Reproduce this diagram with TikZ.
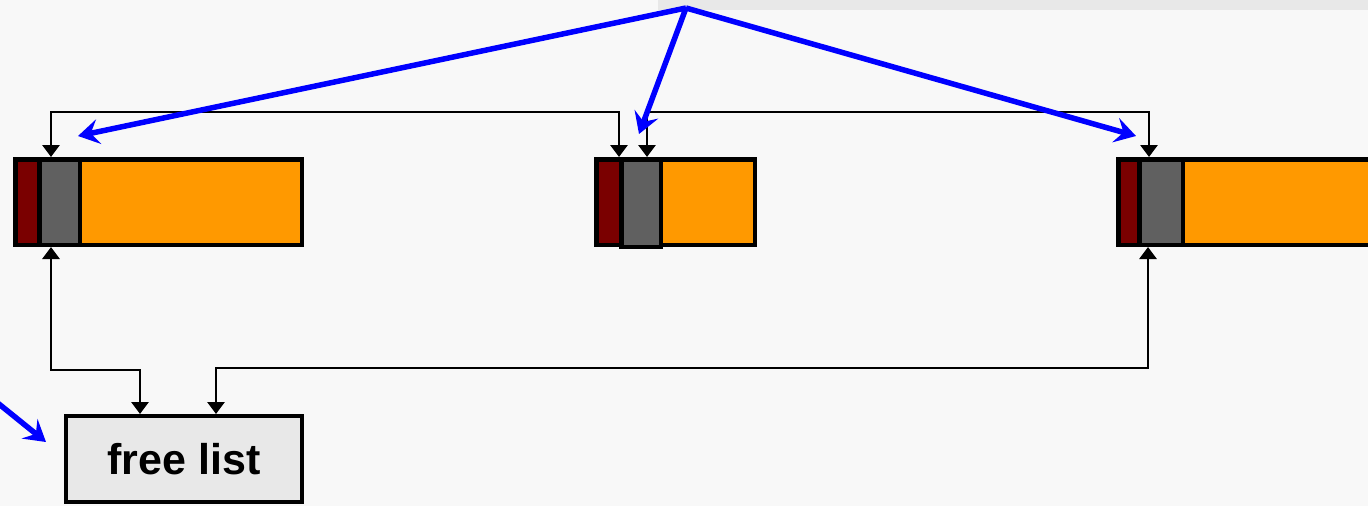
\documentclass[tikz,border=0pt]{standalone}
\usepackage{fontspec}
\setmainfont{Liberation Sans}
\usetikzlibrary{arrows.meta}
\definecolor{pagebg}{HTML}{F8F8F8}
\definecolor{bandgray}{HTML}{E8E8E8}
\definecolor{hdrred}{HTML}{7A0000}
\definecolor{linkgray}{HTML}{606060}
\definecolor{payload}{HTML}{FF9900}
\definecolor{ptrblue}{HTML}{0000FF}
\tikzset{
  cell/.style={draw=black, line width=4.5pt, inner sep=0pt, anchor=north west, minimum height=85.5pt},
  hdr/.style={cell, fill=hdrred},
  lnk/.style={cell, fill=linkgray},
  body/.style={cell, fill=payload},
  listbox/.style={draw=black, line width=4pt, fill=bandgray, inner sep=0pt, anchor=north west,
    minimum width=236pt, minimum height=86pt, font=\bfseries\fontsize{43}{50}\selectfont},
  dlink/.style={draw=black, line width=2.8pt, {Triangle[width=17pt,length=12pt]}-{Triangle[width=17pt,length=12pt]}},
  ptr/.style={draw=ptrblue, line width=5.5pt, -{Stealth[length=21pt,width=25pt,inset=8pt]}}
}
\begin{document}
\begin{tikzpicture}[x=1pt,y=-1pt]
  % page and top band
  \fill[pagebg] (0,0) rectangle (1368,506);
  \fill[bandgray] (658,0) rectangle (1368,10);
  \useasboundingbox (0,0) rectangle (1368,506);

  % block 1
  \node[body, minimum width=286.5pt] (o1) at (13,157) {};
  \node[hdr, minimum width=24pt] (r1) at (13,157) {};
  \node[lnk, minimum width=40.5pt] (g1) at (37,157) {};
  % block 2
  \node[body, minimum width=158.5pt] (o2) at (594,157) {};
  \node[hdr, minimum width=25pt] (r2) at (594,157) {};
  \node[lnk, minimum width=39.5pt, minimum height=87.5pt] (g2) at (619,157) {};
  % block 3
  \node[body, minimum width=261pt] (o3) at (1116,157) {};
  \node[hdr, minimum width=21pt] (r3) at (1116,157) {};
  \node[lnk, minimum width=43.5pt] (g3) at (1137,157) {};

  % free list head
  \node[listbox] (fl) at (64,414) {free list};

  % doubly linked neighbours
  \draw[dlink] ([xshift=-8.5pt]g1.north) -- ++(0,-45) -| ([xshift=-22pt]g2.north);
  \draw[dlink] ([xshift=6pt]g2.north) -- ++(0,-45) -| ([xshift=-12pt]g3.north);

  % links from the free list head
  \draw[dlink] ([xshift=-8.5pt]g1.south) -- ++(0,123) -| ([xshift=-44pt]fl.north);
  \draw[dlink] ([xshift=-13pt]g3.south) -- ++(0,121) -| ([xshift=32pt]fl.north);

  % pointers
  \coordinate (src) at (686,8);
  \coordinate (p1) at (78,136);
  \coordinate (p2) at (639,134);
  \coordinate (p3) at (1136,136);
  \coordinate (q0) at (-6,400);
  \coordinate (q1) at (46,442);
  \draw[ptr] (src) -- (p1);
  \draw[ptr] (src) -- (p2);
  \draw[ptr] (src) -- (p3);
  \draw[ptr] (q0) -- (q1);
\end{tikzpicture}
\end{document}
